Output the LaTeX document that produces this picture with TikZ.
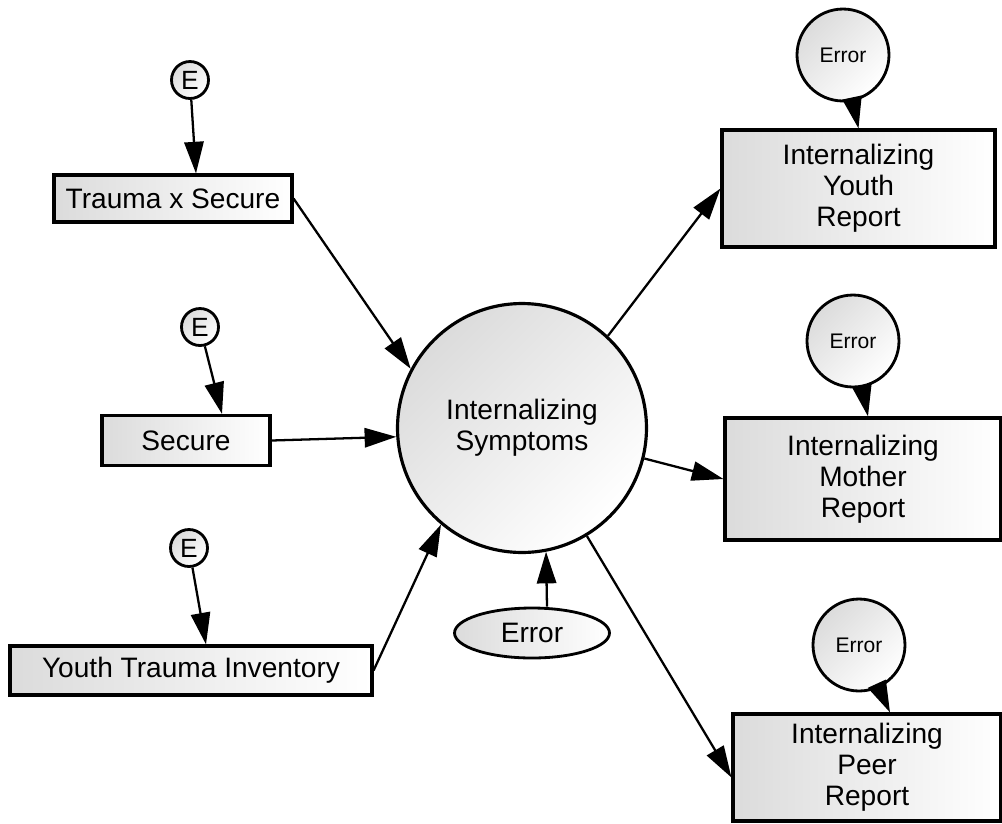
\documentclass[tikz,border=0pt]{standalone}
\usepackage{fontspec}
\setmainfont{Liberation Sans}
\usetikzlibrary{arrows.meta,shapes.geometric,calc}

\tikzset{
  obsbox/.style={draw,line width=1.8pt,rectangle,left color=black!14,right color=white,
    align=center,inner sep=0pt,font=\fontsize{16}{17.6}\selectfont},
  latvar/.style={draw,line width=1.6pt,circle,top color=black!14,bottom color=white,
    shading angle=45,inner sep=0pt,align=center},
  regarr/.style={-{Triangle[length=18pt,width=11pt]},line width=1.3pt}
}

\begin{document}
\begin{tikzpicture}[x=0.02cm,y=-0.02cm]
          \useasboundingbox (0,0) rectangle (1002,823);
          % predictors
          \node[obsbox,minimum width=4.76cm,minimum height=0.94cm] (trauma) at (173,198.5) {Trauma x Secure};
          \node[obsbox,minimum width=3.36cm,minimum height=1.0cm] (secure) at (186,440.5) {Secure};
          \node[obsbox,minimum width=7.24cm,minimum height=0.98cm] (yti) at (191,670.5) {Youth Trauma Inventory};
          \node[latvar,minimum size=0.74cm,font=\fontsize{15}{16}\selectfont] (e1) at (190,80) {E};
          \node[latvar,minimum size=0.74cm,font=\fontsize{15}{16}\selectfont] (e2) at (200,327) {E};
          \node[latvar,minimum size=0.74cm,font=\fontsize{15}{16}\selectfont] (e3) at (189,548) {E};
          % latent factor
          \node[latvar,line width=1.8pt,minimum size=4.98cm,font=\fontsize{16}{17.6}\selectfont] (big) at (522,428) {Internalizing\\Symptoms};
          \node[draw,line width=1.6pt,ellipse,left color=black!14,right color=white,inner sep=0pt,
            minimum width=3.1cm,minimum height=1.0cm,font=\fontsize{16}{17.6}\selectfont] (err0) at (532,633) {Error};
          % reports
          \node[obsbox,minimum width=5.46cm,minimum height=2.34cm] (youth) at (858.5,188.5) {Internalizing\\Youth\\Report};
          \node[obsbox,minimum width=5.52cm,minimum height=2.44cm] (mother) at (863,479) {Internalizing\\Mother\\Report};
          \node[obsbox,minimum width=5.36cm,minimum height=2.14cm] (peer) at (867,767.5) {Internalizing\\Peer\\Report};
          \node[latvar,minimum size=1.84cm,font=\fontsize{12}{13}\selectfont] (err1) at (843,55) {Error};
          \node[latvar,minimum size=1.84cm,font=\fontsize{12}{13}\selectfont] (err2) at (853,341) {Error};
          \node[latvar,minimum size=1.84cm,font=\fontsize{12}{13}\selectfont] (err3) at (859,645) {Error};
          % paths
          \draw[regarr] (e1) -- ($(trauma.north)+(23,0)$);
          \draw[regarr] (e2) -- ($(secure.north)+(36,0)$);
          \draw[regarr] (e3) -- ($(yti.north)+(15,0)$);
          \draw[regarr] (trauma.east) -- (big.152);
          \draw[regarr] (secure.east) -- (big.184);
          \draw[regarr] (yti.east) -- (big.230);
          \draw[regarr] ($(err0.north)+(15,0)$) -- (big.281);
          \draw[regarr] (big.47) -- (youth.west);
          \draw[regarr] (big.-14) -- (mother.west);
          \draw[regarr] (big.-59) -- ($(peer.west)+(0,10)$);
          \draw[regarr] (err1) -- (youth.north);
          \draw[regarr] (err2) -- ($(mother.north)+(5,0)$);
          \draw[regarr] (err3) -- ($(peer.north)+(23,0)$);
        \end{tikzpicture}
\end{document}
